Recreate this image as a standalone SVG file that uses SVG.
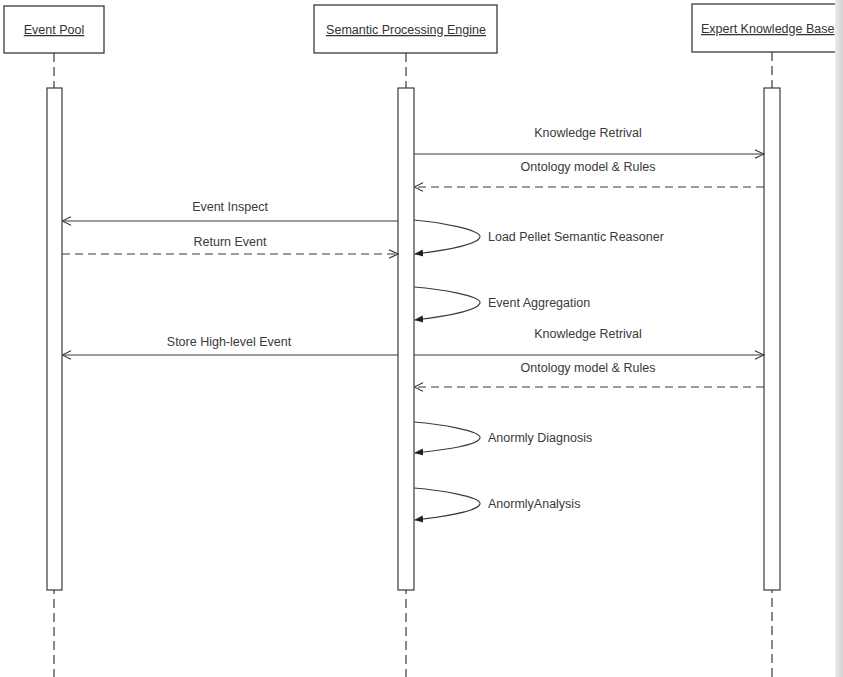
<svg xmlns="http://www.w3.org/2000/svg" width="843" height="677" viewBox="0 0 843 677">
  <style>
    .box { fill: #ffffff; stroke: #3a3a3a; stroke-width: 1.3; }
    .life { stroke: #3a3a3a; stroke-width: 1.2; stroke-dasharray: 9 5; fill: none; }
    .act { fill: #ffffff; stroke: #3a3a3a; stroke-width: 1.2; }
    .msg { stroke: #3a3a3a; stroke-width: 1.1; fill: none; }
    .ret { stroke: #3a3a3a; stroke-width: 1.1; fill: none; stroke-dasharray: 8 5; }
    .self { stroke: #3a3a3a; stroke-width: 1.1; fill: none; }
    .title { font-family: "Liberation Sans", Arial, sans-serif; font-size: 12.5px; fill: #333333; text-decoration: underline; }
    .lbl { font-family: "Liberation Sans", Arial, sans-serif; font-size: 12.5px; fill: #3a3a3a; }
  </style>
  <defs>
    <marker id="open" viewBox="0 0 10 10" refX="9.5" refY="5" markerWidth="10" markerHeight="10" markerUnits="userSpaceOnUse" orient="auto">
      <path d="M0.5,0.8 L9.5,5 L0.5,9.2" fill="none" stroke="#3a3a3a" stroke-width="1.1"/>
    </marker>
    <marker id="solid" viewBox="0 0 10 10" refX="9" refY="5" markerWidth="9" markerHeight="9" markerUnits="userSpaceOnUse" orient="auto">
      <path d="M0,1 L10,5 L0,9 Z" fill="#222222"/>
    </marker>
    <linearGradient id="edge" x1="0" y1="0" x2="1" y2="0">
      <stop offset="0" stop-color="#ececec"/>
      <stop offset="1" stop-color="#d2d2d2"/>
    </linearGradient>
  </defs>

  <rect x="0" y="0" width="843" height="677" fill="#ffffff"/>

  <!-- Participants with lifelines and activation bars -->
  <g id="event-pool">
    <rect class="box" x="4" y="6" width="100" height="47"/>
    <text class="title" x="54" y="34" text-anchor="middle">Event Pool</text>
    <line class="life" x1="54" y1="53" x2="54" y2="677"/>
    <rect class="act" x="47" y="88" width="15" height="502"/>
  </g>

  <g id="semantic-processing-engine">
    <rect class="box" x="314" y="5" width="183" height="48"/>
    <text class="title" x="406" y="34" text-anchor="middle">Semantic Processing Engine</text>
    <line class="life" x1="406" y1="53" x2="406" y2="677"/>
    <rect class="act" x="398" y="88" width="16" height="502"/>
  </g>

  <g id="expert-knowledge-base">
    <rect class="box" x="692" y="4" width="170" height="48"/>
    <text class="title" x="701" y="33">Expert Knowledge Base</text>
    <line class="life" x1="772" y1="52" x2="772" y2="677"/>
    <rect class="act" x="764" y="88" width="16" height="502"/>
  </g>

  <!-- Messages -->
  <g id="connectors">
    <line class="msg" x1="414" y1="154" x2="764" y2="154" marker-end="url(#open)"/>
    <text class="lbl" x="588" y="137" text-anchor="middle">Knowledge Retrival</text>

    <line class="ret" x1="764" y1="187" x2="414" y2="187" marker-end="url(#open)"/>
    <text class="lbl" x="588" y="171" text-anchor="middle">Ontology model &amp; Rules</text>

    <line class="msg" x1="398" y1="221" x2="62" y2="221" marker-end="url(#open)"/>
    <text class="lbl" x="230" y="211" text-anchor="middle">Event Inspect</text>

    <line class="ret" x1="62" y1="254" x2="398" y2="254" marker-end="url(#open)"/>
    <text class="lbl" x="230" y="246" text-anchor="middle">Return Event</text>

    <path class="self" d="M414,220 C440,222 482,230 480,237 C478,245 440,251 415,254" marker-end="url(#solid)"/>
    <text class="lbl" x="488" y="241">Load Pellet Semantic Reasoner</text>

    <path class="self" d="M414,287 C440,289 482,296 480,303 C478,311 440,317 415,320" marker-end="url(#solid)"/>
    <text class="lbl" x="488" y="307">Event Aggregation</text>

    <line class="msg" x1="414" y1="355" x2="764" y2="355" marker-end="url(#open)"/>
    <text class="lbl" x="588" y="338" text-anchor="middle">Knowledge Retrival</text>

    <line class="msg" x1="398" y1="355" x2="62" y2="355" marker-end="url(#open)"/>
    <text class="lbl" x="229" y="346" text-anchor="middle">Store High-level Event</text>

    <line class="ret" x1="764" y1="387" x2="414" y2="387" marker-end="url(#open)"/>
    <text class="lbl" x="588" y="372" text-anchor="middle">Ontology model &amp; Rules</text>

    <path class="self" d="M414,422 C440,424 482,431 480,438 C478,446 440,450 415,453" marker-end="url(#solid)"/>
    <text class="lbl" x="488" y="442">Anormly Diagnosis</text>

    <path class="self" d="M414,488 C440,490 482,497 480,504 C478,512 440,517 415,520" marker-end="url(#solid)"/>
    <text class="lbl" x="488" y="508">AnormlyAnalysis</text>
  </g>

  <!-- shaded strip along the right edge -->
  <rect x="835" y="0" width="8" height="677" fill="url(#edge)"/>
</svg>
